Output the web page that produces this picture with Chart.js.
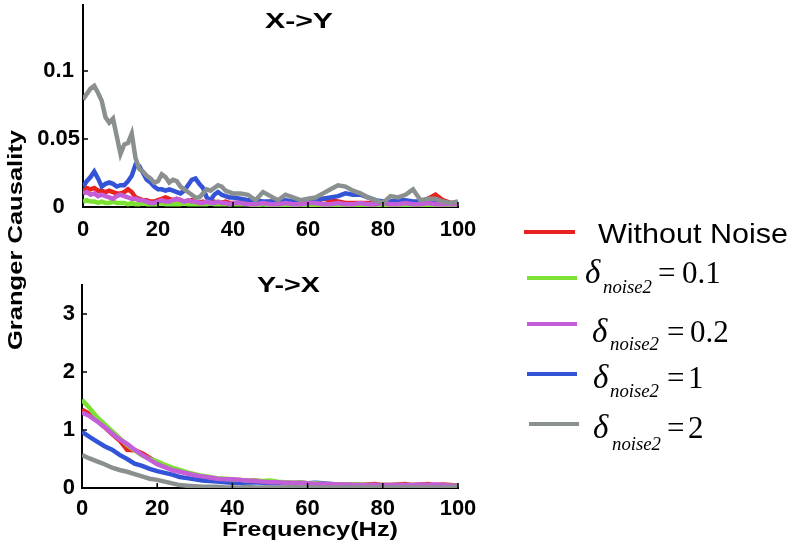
<!DOCTYPE html>
<html><head><meta charset="utf-8">
<script src="https://cdn.jsdelivr.net/npm/chart.js@4.4.1/dist/chart.umd.min.js"></script>
<style>
html,body{margin:0;padding:0;background:#fff}
body{width:793px;height:546px;overflow:hidden;position:relative}
canvas{position:absolute;left:0}
#c1{top:0}
#c2{top:240px}
#ov{position:absolute;left:0;top:0;pointer-events:none}
</style></head>
<body>
<canvas id="c1" width="480" height="240"></canvas>
<canvas id="c2" width="480" height="306"></canvas>
<svg id="ov" width="793" height="546" xmlns="http://www.w3.org/2000/svg"></svg>
<script>
// ---------- data ----------
const seriesNames = ['Without Noise', 'δnoise2 = 0.1', 'δnoise2 = 0.2', 'δnoise2 = 1', 'δnoise2 = 2'];
const noiseLevels = ['0.1', '0.2', '1', '2'];
const seriesColors = ['#e8231f', '#7be233', '#c35ed8', '#3454d8', '#8a9090'];

const freqTop = [0,1,2,3,4,5,6,7,8,9,10,11,12,13,14,15,16,17,18,19,20,21,22,23,24,25,26,27,28,29,30,31,32,33,34,35,36,37,38,39,40,
  42,44,46,48,50,52,54,56,58,60,62,64,66,68,70,72,74,76,78,80,82,84,86,88,90,92,94,96,98,100];

// X->Y
const xyRed = [.012,.014,.013,.014,.012,.012,.011,.012,.011,.010,.010,.011,.013,.011,.007,.006,.005,.005,.004,.004,
  .005,.006,.007,.006,.005,.006,.005,.004,.004,.005,.004,.003,.004,.003,.003,.004,.003,.003,.004,.003,.003,
  .003,.003,.004,.003,.004,.003,.002,.003,.003,.003,.004,.006,.005,.004,.003,.003,.003,.003,.002,.003,.003,.002,.003,.003,.004,.006,.009,.005,.003,.003];
const xyGreen = [.004,.005,.004,.004,.003,.004,.003,.003,.004,.003,.003,.003,.002,.003,.002,.002,.003,.002,.002,.002,
  .002,.003,.002,.002,.002,.002,.002,.003,.002,.002,.002,.002,.002,.002,.003,.002,.002,.002,.002,.002,.002,
  .002,.002,.001,.002,.001,.001,.001,.001,.001,.001,.001,.001,.001,.001,.001,.001,.001,.001,.001,.001,.001,.001,.001,.001,.001,.001,.001,.001,.001,.001];
const xyPurple = [.010,.011,.009,.010,.008,.009,.008,.007,.006,.008,.009,.008,.007,.006,.006,.005,.005,.004,.003,.003,
  .004,.005,.004,.004,.005,.006,.005,.004,.005,.004,.004,.003,.003,.004,.003,.003,.004,.003,.003,.002,.003,
  .003,.002,.002,.003,.002,.002,.003,.002,.002,.003,.003,.002,.002,.003,.002,.002,.003,.002,.002,.003,.002,.002,.003,.002,.002,.003,.002,.002,.002,.002];
const xyBlue = [.015,.019,.022,.026,.021,.015,.017,.018,.017,.015,.016,.016,.019,.023,.031,.030,.025,.020,.018,.015,
  .013,.013,.012,.013,.012,.011,.010,.012,.016,.020,.021,.017,.014,.007,.005,.009,.011,.009,.008,.007,.007,
  .006,.005,.005,.004,.004,.004,.005,.004,.004,.005,.005,.006,.007,.008,.010,.009,.009,.007,.005,.004,.004,.005,.005,.004,.004,.004,.003,.003,.002,.002];
const xyGray = [.079,.083,.087,.089,.084,.078,.066,.062,.065,.052,.039,.046,.047,.054,.036,.028,.026,.023,.021,.018,
  .019,.024,.022,.018,.020,.019,.015,.013,.011,.009,.007,.007,.010,.013,.012,.014,.016,.015,.012,.011,.010,
  .010,.009,.005,.011,.008,.005,.009,.007,.005,.006,.007,.010,.013,.016,.015,.012,.010,.007,.005,.003,.008,.007,.009,.013,.005,.006,.006,.004,.003,.004];

const freqBot = [0,2,4,6,8,10,12,14,16,18,20,22,24,26,28,30,32,34,36,38,40,42,44,46,48,50,
  52,54,56,58,60,62,64,66,68,70,72,74,76,78,80,82,84,86,88,90,92,94,96,98,100];

// Y->X
const yxRed = [1.35,1.28,1.17,1.05,0.93,0.82,0.66,0.65,0.60,0.52,0.44,0.39,0.34,0.29,0.26,0.23,0.19,0.18,0.15,0.15,
  0.14,0.14,0.12,0.13,0.11,0.10,0.10,0.09,0.08,0.09,0.08,0.07,0.07,0.06,0.06,0.06,0.06,0.05,0.06,0.07,
  0.05,0.05,0.06,0.07,0.05,0.06,0.07,0.05,0.06,0.05,0.04];
const yxGreen = [1.52,1.38,1.22,1.10,0.98,0.86,0.74,0.65,0.56,0.50,0.46,0.40,0.35,0.31,0.27,0.24,0.21,0.19,0.17,0.16,
  0.15,0.14,0.13,0.13,0.12,0.13,0.11,0.10,0.09,0.09,0.08,0.08,0.07,0.07,0.06,0.06,0.06,0.06,0.05,0.05,
  0.05,0.05,0.05,0.05,0.05,0.05,0.05,0.04,0.05,0.04,0.04];
const yxPurple = [1.30,1.24,1.15,1.05,0.94,0.84,0.76,0.66,0.57,0.49,0.41,0.36,0.31,0.28,0.25,0.22,0.20,0.18,0.16,0.15,
  0.15,0.14,0.13,0.12,0.11,0.10,0.10,0.09,0.09,0.08,0.08,0.07,0.07,0.07,0.06,0.06,0.05,0.05,0.05,0.05,
  0.05,0.05,0.05,0.05,0.05,0.06,0.05,0.06,0.05,0.04,0.04];
const yxBlue = [0.97,0.88,0.80,0.72,0.66,0.57,0.50,0.42,0.38,0.33,0.29,0.26,0.23,0.19,0.17,0.15,0.13,0.12,0.11,0.10,
  0.09,0.09,0.09,0.10,0.09,0.08,0.08,0.08,0.08,0.09,0.08,0.09,0.08,0.07,0.06,0.05,0.05,0.05,0.04,0.04,
  0.04,0.03,0.03,0.03,0.03,0.03,0.03,0.03,0.03,0.02,0.03];
const yxGray = [0.57,0.51,0.46,0.41,0.35,0.31,0.28,0.24,0.20,0.16,0.14,0.11,0.08,0.05,0.04,0.03,0.02,0.02,0.02,0.01,
  0.01,0.01,0.02,0.01,0.01,0.01,0.01,0.01,0.02,0.01,0.01,0.01,0.01,0.01,0.01,0.01,0.01,0.01,0.01,0.01,
  0.01,0.01,0.01,0.01,0.01,0.01,0.01,0.01,0.01,0.01,0.02];

const xTickStep = 20;
const topYTicks = [0, 0.05, 0.1];
const botYLabels = [0, 1, 2, 3];

// ---------- charts ----------
const SANS = "'Liberation Sans', Arial, Helvetica, sans-serif";
const SERIF = "'Liberation Serif', 'Times New Roman', serif";
const tickFont = {family: SANS, size: 22, weight: 'bold'};
const drawOrder = [4, 2, 1, 3, 0]; // lower = drawn on top

const inwardTicks = {
  id: 'inwardTicks',
  afterDatasetsDraw(chart) {
    const {ctx, chartArea: a, scales: {x, y}} = chart;
    ctx.save();
    ctx.strokeStyle = '#000';
    ctx.lineWidth = 1.5;
    ctx.beginPath();
    x.ticks.forEach(t => {
      if (t.value === x.min) return;
      const px = x.getPixelForValue(t.value);
      ctx.moveTo(px, a.bottom); ctx.lineTo(px, a.bottom - 5);
    });
    y.ticks.forEach(t => {
      if (t.value === y.min) return;
      const py = y.getPixelForValue(t.value);
      ctx.moveTo(a.left, py); ctx.lineTo(a.left + 5, py);
    });
    ctx.stroke();
    ctx.restore();
  }
};

function zeroPad(s) { s.paddingTop = 0; s.paddingBottom = 0; s.paddingLeft = 0; s.paddingRight = 0; }

function makeChart(id, freq, series, cfg) {
  return new Chart(document.getElementById(id), {
    type: 'line',
    data: {
      datasets: series.map((s, i) => ({
        label: seriesNames[i],
        data: freq.map((f, j) => ({x: f, y: s[j]})),
        borderColor: seriesColors[i],
        backgroundColor: seriesColors[i],
        borderWidth: 4.5,
        pointRadius: 0,
        tension: 0,
        fill: false,
        order: drawOrder[i]
      }))
    },
    options: {
      responsive: false,
      animation: false,
      events: [],
      devicePixelRatio: 1,
      plugins: {legend: {display: false}, tooltip: {enabled: false}, title: {display: false}},
      layout: {padding: {left: 0, right: 22, top: cfg.padTop, bottom: 0}},
      scales: {
        x: {
          type: 'linear', min: 0, max: 100,
          ticks: {stepSize: xTickStep, font: tickFont, color: '#000', padding: cfg.xPad, maxRotation: 0, autoSkip: false,
                  callback: v => String(v)},
          grid: {display: true, drawOnChartArea: false, drawTicks: false},
          border: {display: true, color: '#000', width: 2},
          afterFit: s => { s.height = cfg.xH; zeroPad(s); }
        },
        y: {
          type: 'linear', min: 0, max: cfg.yMax,
          ticks: {stepSize: cfg.yStep, font: tickFont, color: '#000', padding: cfg.yPad, crossAlign: cfg.cross,
                  callback: cfg.yFmt},
          afterBuildTicks: cfg.filter,
          grid: {display: true, drawOnChartArea: false, drawTicks: false},
          border: {display: true, color: '#000', width: 2},
          afterFit: s => { s.width = cfg.yW; zeroPad(s); }
        }
      }
    },
    plugins: [inwardTicks]
  });
}

makeChart('c1', freqTop, [xyRed, xyGreen, xyPurple, xyBlue, xyGray], {
  padTop: 5, xH: 33, yW: 83, xPad: 10, yPad: 3, cross: 'center',
  yMax: 0.1485, yStep: 0.05,
  yFmt: v => String(+v.toFixed(3)),
  filter: s => { s.ticks = s.ticks.filter(t => topYTicks.some(v => Math.abs(v - t.value) < 1e-9)); }
});

makeChart('c2', freqBot, [yxRed, yxGreen, yxPurple, yxBlue, yxGray], {
  padTop: 45, xH: 58, yW: 82, xPad: 8, yPad: 7, cross: 'near',
  yMax: 3.5, yStep: 0.5,
  yFmt: v => (botYLabels.includes(v) ? String(v) : ''),
  filter: null
});

// ---------- text overlay (titles, axis labels, legend) ----------
const NS = 'http://www.w3.org/2000/svg';
const ov = document.getElementById('ov');
function el(tag, attrs, text) {
  const e = document.createElementNS(NS, tag);
  for (const k in attrs) e.setAttribute(k, attrs[k]);
  if (text !== undefined) e.textContent = text;
  ov.appendChild(e);
  return e;
}
function sans(str, x, y, size, len, extra) {
  return el('text', Object.assign({x, y, 'font-family': SANS, 'font-size': size, 'font-weight': 'bold', fill: '#000',
    textLength: len, lengthAdjust: 'spacingAndGlyphs'}, extra || {}), str);
}
sans('X->Y', 265, 28, 22, 68);
sans('Y->X', 257, 292, 22, 63);
sans('Frequency(Hz)', 222, 536, 20, 176);
sans('Granger Causality', 0, 0, 21, 220, {'text-anchor': 'middle', transform: 'translate(22,240) rotate(-90)'});

// legend
el('line', {x1: 524, x2: 575, y1: 232, y2: 232, stroke: seriesColors[0], 'stroke-width': 4});
el('text', {x: 598, y: 243, 'font-family': SANS, 'font-size': 28, fill: '#000', textLength: 190, lengthAdjust: 'spacingAndGlyphs'}, seriesNames[0]);

const rows = [
  {ly: 278, lx: 527, dx: 585, sx: 603, sb: 293, ex: 658, vx: 682, b: 283},
  {ly: 324, lx: 527, dx: 592, sx: 610, sb: 350, ex: 667, vx: 690, b: 342},
  {ly: 374, lx: 527, dx: 593, sx: 610, sb: 397, ex: 667, vx: 688, b: 388},
  {ly: 424, lx: 529, dx: 593, sx: 612, sb: 450, ex: 667, vx: 688, b: 438}
];
rows.forEach((r, i) => {
  el('line', {x1: r.lx, x2: r.lx + 50, y1: r.ly, y2: r.ly, stroke: seriesColors[i + 1], 'stroke-width': 4});
  el('text', {x: r.dx, y: r.b, 'font-family': SERIF, 'font-size': 33, 'font-style': 'italic', fill: '#000'}, 'δ');
  el('text', {x: r.sx, y: r.sb, 'font-family': SERIF, 'font-size': 19, 'font-style': 'italic', fill: '#000',
    textLength: 49, lengthAdjust: 'spacingAndGlyphs'}, 'noise2');
  el('text', {x: r.ex, y: r.b, 'font-family': SERIF, 'font-size': 31, fill: '#000'}, '=');
  el('text', {x: r.vx, y: r.b, 'font-family': SERIF, 'font-size': 31, fill: '#000'}, noiseLevels[i]);
});
</script>
</body></html>
